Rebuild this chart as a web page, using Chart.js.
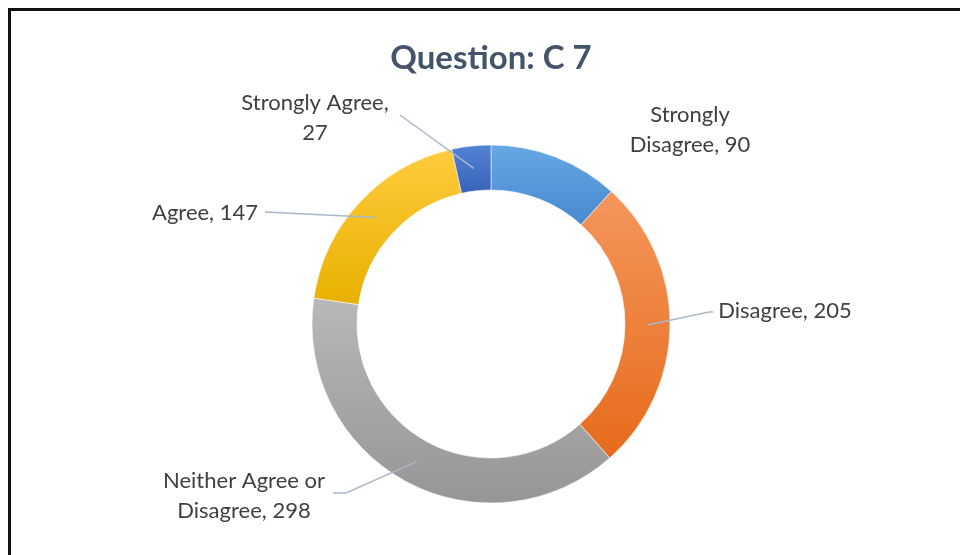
<!DOCTYPE html>
<html>
<head>
<meta charset="utf-8">
<script src="https://cdn.jsdelivr.net/npm/chart.js@4.4.1/dist/chart.umd.min.js"></script>
<style>
  html, body { margin: 0; padding: 0; background: #fff; overflow: hidden; }
  #wrap { position: relative; width: 960px; height: 555px; }
  #chart { position: absolute; left: 0; top: 0; }
  #frame { position: absolute; left: 8px; top: 8px; right: -10px; bottom: -10px;
           border-left: 3px solid #111; border-top: 3px solid #111; }
</style>
</head>
<body>
<div id="wrap">
  <canvas id="chart" width="960" height="555"></canvas>
  <div id="frame"></div>
</div>
<script>
// DATA
const categories = ["Strongly Disagree", "Disagree", "Neither Agree or Disagree", "Agree", "Strongly Agree"];
const responses = [90, 205, 298, 147, 27];
const chartTitle = "Question: C 7";

// slice colours (light at top, darker at bottom, like the office gradient)
const topColors = ["#66a8e3", "#f5965c", "#b8b8b8", "#ffcb3d", "#5283d4"];
const bottomColors = ["#4889d0", "#e66b1b", "#969696", "#e8b100", "#3962b8"];

// LABEL LAYOUT (pixels from the doughnut centre)
// words: how many words go on the first line (0 = single line)
const labelLayout = [
  { dx: 199, dy: -194, words: 1, leader: null },
  { dx: 294, dy: -13, words: 0, leader: [[218, -12], [222, -12]] },
  { dx: -247, dy: 172, words: 3, leader: [[-145, 169], [-158, 169]] },
  { dx: -286, dy: -111, words: 0, leader: [[-226, -112]] },
  { dx: -176, dy: -206, words: 2, leader: [[-91, -209]] }
];

const RADIUS = 179;
const CUTOUT = 134;
const labelFont = "22px Lato";
const labelColor = "#404040";
const leaderColor = "#a9b7ca";

// gradient per slice, spanning the slice's own vertical extent
const gradCache = {};
function sliceGradient(c) {
  const chart = c.chart;
  const area = chart.chartArea;
  const i = c.dataIndex;
  if (!area) return topColors[i];
  if (gradCache[i]) return gradCache[i];
  const cx = (area.left + area.right) / 2;
  const cy = (area.top + area.bottom) / 2;
  const total = responses.reduce((a, b) => a + b, 0);
  let cum = 0;
  for (let k = 0; k < i; k++) cum += responses[k];
  const a0 = -Math.PI / 2 + cum / total * Math.PI * 2;
  const a1 = -Math.PI / 2 + (cum + responses[i]) / total * Math.PI * 2;
  let minY = Infinity, maxY = -Infinity;
  for (let s = 0; s <= 40; s++) {
    const a = a0 + (a1 - a0) * s / 40;
    [RADIUS, CUTOUT].forEach(r => {
      const y = cy + Math.sin(a) * r;
      minY = Math.min(minY, y);
      maxY = Math.max(maxY, y);
    });
  }
  const g = chart.ctx.createLinearGradient(0, minY, 0, maxY);
  g.addColorStop(0, topColors[i]);
  g.addColorStop(1, bottomColors[i]);
  gradCache[i] = g;
  return g;
}

function wrapLabel(text, words) {
  if (!words) return [text];
  const parts = text.split(" ");
  return [parts.slice(0, words).join(" "), parts.slice(words).join(" ")];
}

// TITLE, LEADER LINES AND CALLOUT LABELS
const calloutPlugin = {
  id: "callouts",
  afterDraw(chart) {
    const ctx = chart.ctx;
    const meta = chart.getDatasetMeta(0);
    ctx.save();

    ctx.fillStyle = "#44546a";
    ctx.font = "bold 33px Lato";
    ctx.textAlign = "center";
    ctx.textBaseline = "middle";
    ctx.fillText(chartTitle, 491, 58);

    meta.data.forEach((arc, i) => {
      const p = arc.getProps(["x", "y", "startAngle", "endAngle", "innerRadius", "outerRadius"], true);
      const mid = (p.startAngle + p.endAngle) / 2;
      const r = (p.innerRadius + p.outerRadius) / 2;
      const ax = p.x + Math.cos(mid) * r;
      const ay = p.y + Math.sin(mid) * r;
      const lay = labelLayout[i];

      if (lay.leader) {
        ctx.strokeStyle = leaderColor;
        ctx.lineWidth = 1.5;
        ctx.beginPath();
        ctx.moveTo(ax, ay);
        lay.leader.forEach(pt => ctx.lineTo(p.x + pt[0], p.y + pt[1]));
        ctx.stroke();
      }

      const lines = wrapLabel(categories[i] + ", " + responses[i], lay.words);
      ctx.fillStyle = labelColor;
      ctx.font = labelFont;
      lines.forEach((t, k) => {
        const y = p.y + lay.dy + (k - (lines.length - 1) / 2) * 30;
        ctx.fillText(t, p.x + lay.dx, y);
      });
    });
    ctx.restore();
  }
};

new Chart(document.getElementById("chart"), {
  type: "doughnut",
  data: {
    labels: categories,
    datasets: [{
      data: responses,
      backgroundColor: sliceGradient,
      borderColor: "rgba(255,255,255,0.55)",
      borderWidth: 1,
      hoverOffset: 0
    }]
  },
  options: {
    responsive: false,
    animation: false,
    events: [],
    radius: RADIUS,
    cutout: (CUTOUT / RADIUS * 100) + "%",
    layout: { padding: { top: 93, bottom: 0, left: 22, right: 0 } },
    plugins: {
      legend: { display: false },
      tooltip: { enabled: false },
      title: { display: false }
    }
  },
  plugins: [calloutPlugin]
});
</script>
</body>
</html>
